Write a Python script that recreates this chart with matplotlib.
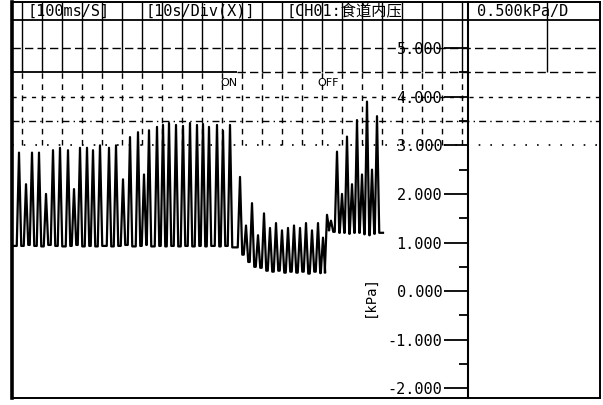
import matplotlib
matplotlib.use("Agg")
import matplotlib.pyplot as plt
from matplotlib.ticker import FixedLocator, FormatStrFormatter

plt.rcParams['font.family'] = ['DejaVu Sans Mono', 'Noto Sans CJK SC']

# header strip of the recorder printout
header_texts = ['[100ms/S]', '[10s/Div(X)]', '[CH01:食道内压', '0.500kPa/D']
marker_texts = ['ON', 'OFF']
marker_times = [43.4, 63.2]          # s
y_ticks = [-2, -1, 0, 1, 2, 3, 4, 5]
y_unit = '[kPa]'

# pressure trace: one entry per pulse (time of peak, peak value, value after it)
pulse_t = [1.4, 2.8, 4.0, 5.4, 6.8, 8.2, 9.6, 11.2, 12.4, 13.6, 15.0, 16.2,
           17.6, 19.4, 20.8, 22.2, 23.6, 25.2, 26.4, 27.4, 29.0, 30.2, 31.4,
           32.8, 34.2, 35.6, 37.0, 38.2, 39.4, 41.0, 42.2, 43.6,
           45.6, 46.8, 48.0, 49.2, 50.4, 51.6, 52.8, 54.0, 55.2, 56.4, 57.6,
           58.8, 60.0, 61.2, 62.2,
           63.0, 63.8, 65.0, 66.0, 67.0, 68.0, 69.0, 70.0, 71.0, 72.0, 73.0]
pulse_peak = [2.85, 2.2, 2.85, 2.85, 2.0, 2.9, 2.95, 2.9, 2.1, 2.95, 2.95, 2.9,
              3.0, 2.95, 3.0, 2.3, 3.17, 3.27, 2.4, 3.31, 3.38, 3.42, 3.46,
              3.42, 3.4, 3.46, 3.42, 3.44, 3.38, 3.42, 3.3, 3.42,
              2.35, 1.35, 1.81, 1.15, 1.6, 1.3, 1.4, 1.25, 1.3, 1.35, 1.3,
              1.4, 1.25, 1.4, 1.1,
              1.57, 1.45, 2.87, 2.0, 3.18, 2.2, 3.52, 2.4, 3.9, 2.5, 3.6]
pulse_base = [0.93, 0.95, 0.93, 0.92, 0.95, 0.93, 0.92, 0.93, 0.95, 0.92, 0.93, 0.92,
              0.93, 0.92, 0.93, 0.95, 0.92, 0.93, 0.95, 0.92, 0.93, 0.92, 0.93,
              0.92, 0.93, 0.92, 0.93, 0.92, 0.93, 0.92, 0.93, 0.9,
              0.75, 0.6, 0.5, 0.48, 0.42, 0.4, 0.42, 0.38, 0.4, 0.38, 0.4,
              0.36, 0.4, 0.37, 0.38,
              1.25, 1.22, 1.2, 1.2, 1.18, 1.2, 1.2, 1.17, 1.15, 1.18, 1.2]
trace_end_t = 74.2

fig = plt.figure(figsize=(6.03, 4.05), dpi=100)
ax = fig.add_axes([12 / 603, 7 / 405, 588 / 603, 396 / 405])
ax.set_xlim(0, 117.6)
ax.set_ylim(-2.2, 5.95)
ax.set_xticks([])
ax.set_yticks([])
for side in ax.spines:
    ax.spines[side].set_linewidth(1.4)
ax.spines['left'].set_linewidth(2.6)

# grid of the printout (only in the upper band)
grid_x = [2 + 4 * k for k in range(23)] + [107]
ax.vlines(grid_x, 4.5, 5.95, color='black', lw=1.0)
ax.vlines(grid_x[:-1], 3.0, 4.5, color='black', lw=1.0, linestyles=(0, (4, 4)))
ax.axhline(5.58, color='black', lw=1.3)
ax.axhline(5.0, color='black', lw=1.0, ls=(0, (6, 3)))
ax.hlines(4.5, 0, 45, color='black', lw=1.3)
ax.hlines(4.5, 45, 117.6, color='black', lw=1.0, ls=(0, (6, 3)))
ax.axhline(4.0, color='black', lw=1.0, ls=(0, (3, 4)))
ax.axhline(3.5, color='black', lw=1.0, ls=(0, (5, 3, 1, 3)))
ax.axhline(3.0, color='black', lw=1.2, ls=(0, (1, 6)))

# build the trace from the pulse list
xs, ys = [0.0], [pulse_base[0]]
prev = pulse_base[0]
for t, pk, b in zip(pulse_t, pulse_peak, pulse_base):
    xs += [t - 0.45, t, t + 0.45]
    ys += [prev, pk, b]
    prev = b
xs.append(trace_end_t)
ys.append(prev)
ax.plot(xs, ys, color='black', lw=1.6)

# header and markers
for x, s in zip([3.0, 26.6, 54.8, 93.0], header_texts):
    ax.text(x, 5.76, s, fontsize=11, va='center', ha='left')
for x, s in zip(marker_times, marker_texts):
    ax.text(x, 4.28, s, fontsize=8, va='center', ha='center',
            family='DejaVu Sans')

# the value axis drawn inside the chart
ay = fig.add_axes([468 / 603, 7 / 405, 0.001, 396 / 405])
ay.set_ylim(-2.2, 5.95)
ay.patch.set_visible(False)
for side in ['top', 'right', 'bottom']:
    ay.spines[side].set_visible(False)
ay.spines['left'].set_linewidth(1.5)
ay.set_xticks([])
ay.yaxis.set_major_locator(FixedLocator(y_ticks))
ay.yaxis.set_minor_locator(FixedLocator([v + 0.5 for v in y_ticks[:-1]]))
ay.yaxis.set_major_formatter(FormatStrFormatter('%.3f'))
ay.tick_params(axis='y', which='major', direction='out', length=17,
               width=1.3, pad=1.5, labelsize=11)
ay.tick_params(axis='y', which='minor', direction='out', length=6.5, width=1.3)

fig.text(370 / 603, 1 - 296 / 405, y_unit, rotation=90, fontsize=10,
         ha='center', va='center')

fig.savefig('out.png', dpi=100)
